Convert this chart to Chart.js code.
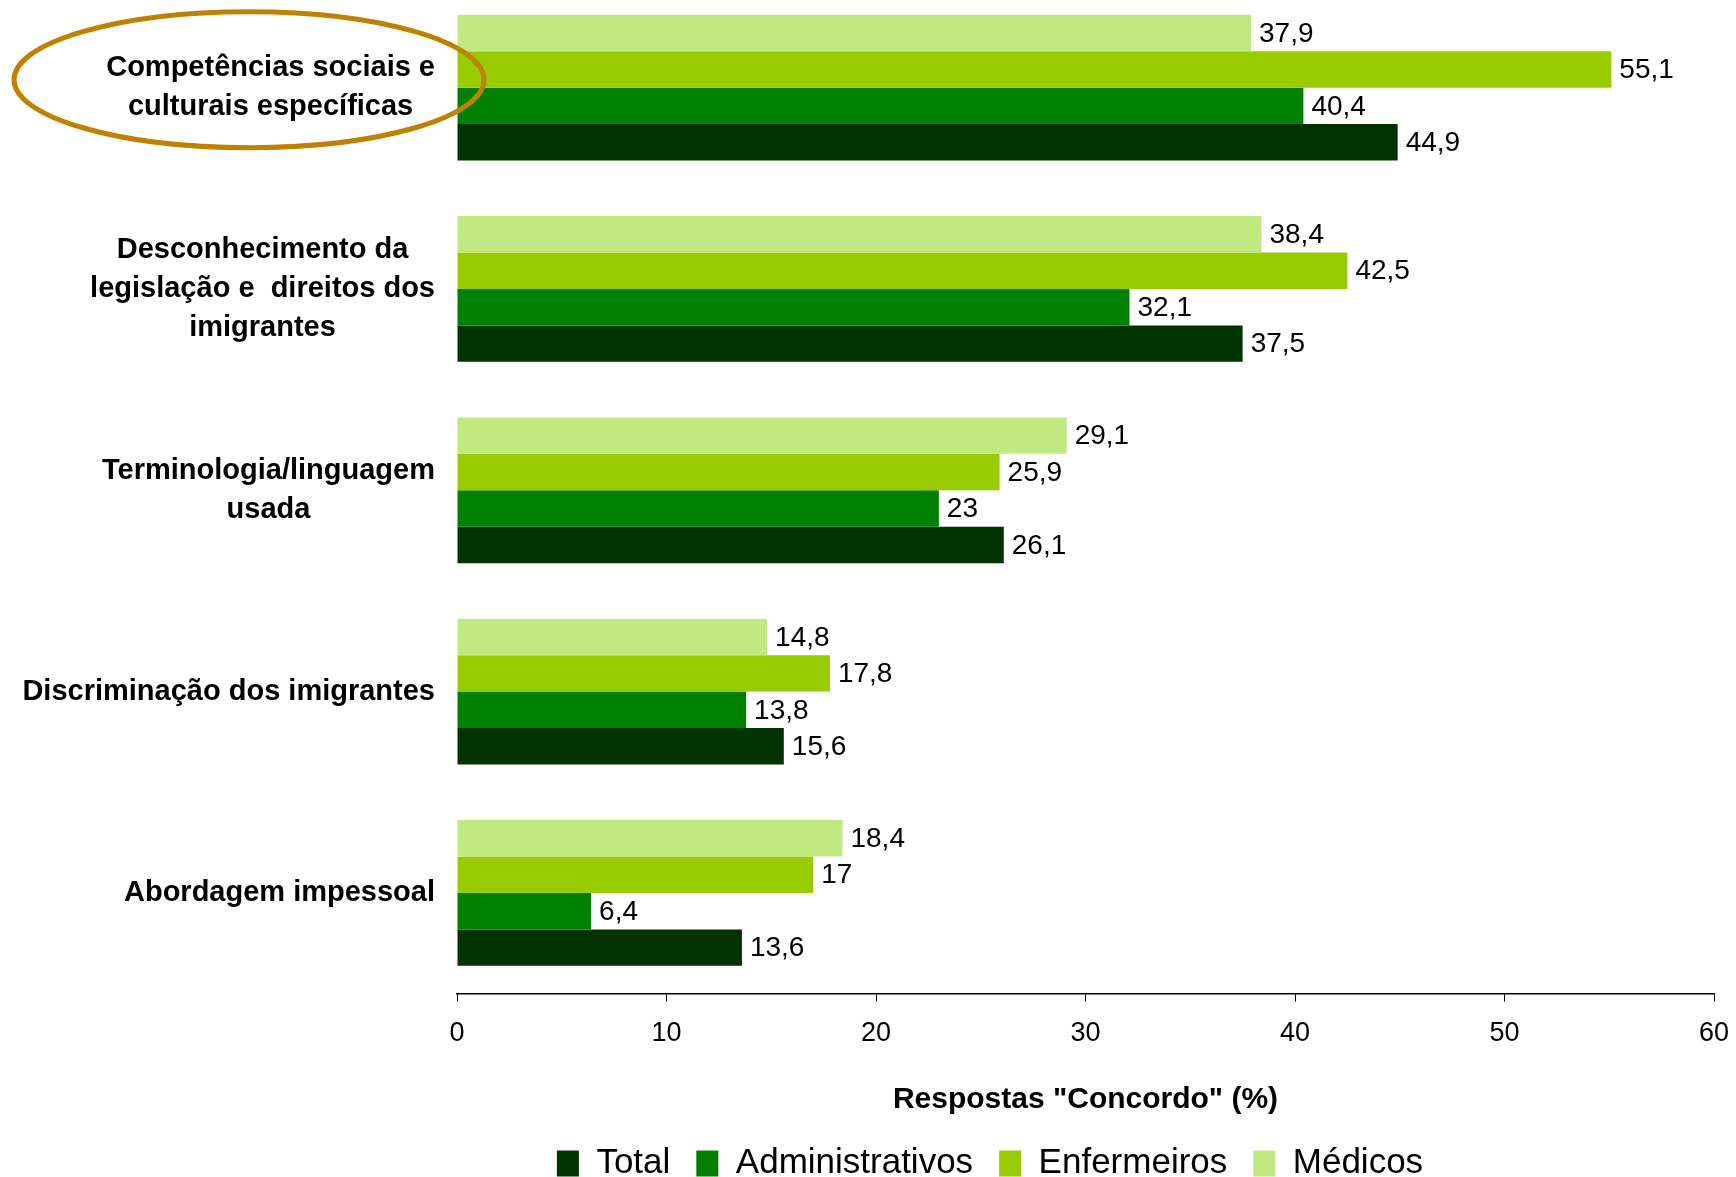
<!DOCTYPE html>
<html>
<head>
<meta charset="utf-8">
<script src="https://cdn.jsdelivr.net/npm/chart.js@4/dist/chart.umd.min.js"></script>
<style>
  html, body { margin: 0; padding: 0; background: #fff; overflow: hidden; }
  #wrap { position: relative; width: 1736px; height: 1177px; overflow: hidden; }
  #myChart { position: absolute; left: 0; top: -20px; }
</style>
</head>
<body>
<div id="wrap"><canvas id="myChart" width="1736" height="1215"></canvas></div>
<script>
// categories (each entry = lines of the label)
var categorias = [
    ["Competências sociais e", "culturais específicas"],
    ["Desconhecimento da", "legislação e  direitos dos", "imigrantes"],
    ["Terminologia/linguagem", "usada"],
    ["Discriminação dos imigrantes"],
    ["Abordagem impessoal"]
];
var medicos = [37.9, 38.4, 29.1, 14.8, 18.4];
var enfermeiros = [55.1, 42.5, 25.9, 17.8, 17];
var administrativos = [40.4, 32.1, 23, 13.8, 6.4];
var total = [44.9, 37.5, 26.1, 15.6, 13.6];
var xTicks = [0, 10, 20, 30, 40, 50, 60];

var FONT = "'Liberation Sans', Arial, sans-serif";

// category labels: right-aligned block, lines centred inside the block
var catLabels = {
    id: 'catLabels',
    afterDraw: function (chart) {
        var ctx = chart.ctx;
        var yScale = chart.scales.y;
        ctx.save();
        ctx.font = "bold 29px " + FONT;
        ctx.fillStyle = "#000";
        ctx.textAlign = "center";
        ctx.textBaseline = "middle";
        var right = 435;
        var lh = 39;
        categorias.forEach(function (lines, i) {
            var maxW = 0;
            lines.forEach(function (l) { maxW = Math.max(maxW, ctx.measureText(l).width); });
            var cx = right - maxW / 2;
            var cy = yScale.getPixelForValue(i);
            var y0 = cy - (lines.length - 1) * lh / 2;
            lines.forEach(function (l, k) { ctx.fillText(l, cx, y0 + k * lh); });
        });
        // highlight ring round the first category
        var ey = yScale.getPixelForValue(0) - 8;
        ctx.beginPath();
        ctx.ellipse(249, ey, 235, 68, 0, 0, Math.PI * 2);
        ctx.lineWidth = 5;
        ctx.strokeStyle = "#C08000";
        ctx.stroke();
        ctx.restore();
    }
};

// value at the end of each bar
var valueLabels = {
    id: 'valueLabels',
    afterDatasetsDraw: function (chart) {
        var ctx = chart.ctx;
        ctx.save();
        ctx.font = "28px " + FONT;
        ctx.fillStyle = "#000";
        ctx.textAlign = "left";
        ctx.textBaseline = "middle";
        chart.data.datasets.forEach(function (ds, di) {
            var meta = chart.getDatasetMeta(di);
            meta.data.forEach(function (bar, i) {
                var txt = String(ds.data[i]).replace('.', ',');
                ctx.fillText(txt, bar.x + 8, bar.y + 1);
            });
        });
        ctx.restore();
    }
};

var ctx = document.getElementById("myChart").getContext("2d");
var chartObj = new Chart(ctx, {
    type: 'bar',
    data: {
        labels: categorias.map(function (c) { return c.join(' '); }),
        datasets: [
            { label: "Médicos", data: medicos, backgroundColor: "#C0E980" },
            { label: "Enfermeiros", data: enfermeiros, backgroundColor: "#99CC00" },
            { label: "Administrativos", data: administrativos, backgroundColor: "#008000" },
            { label: "Total", data: total, backgroundColor: "#003300" }
        ]
    },
    options: {
        indexAxis: 'y',
        responsive: false,
        animation: false,
        categoryPercentage: 0.724,
        barPercentage: 1,
        layout: { padding: { top: 7, left: 266, right: 22, bottom: 4 } },
        scales: {
            x: {
                min: 0,
                max: 60,
                afterBuildTicks: function (scale) {
                    scale.ticks = xTicks.map(function (v) { return { value: v }; });
                },
                // let the last tick label hang past the plot edge
                afterFit: function (scale) { scale.paddingRight = 0; },
                grid: { display: true, drawOnChartArea: false, drawTicks: true, tickLength: 8, color: "#000" },
                border: { display: true, color: "#000", width: 1.5 },
                ticks: { color: "#000", font: { family: FONT, size: 27 }, padding: 16, maxRotation: 0 },
                title: {
                    display: true,
                    text: 'Respostas "Concordo" (%)',
                    color: "#000",
                    font: { family: FONT, size: 30, weight: 'bold' },
                    padding: { top: 16, bottom: 2 }
                }
            },
            y: {
                grid: { display: false },
                border: { display: false },
                ticks: { display: false },
                afterFit: function (scale) { scale.width = 191; }
            }
        },
        plugins: {
            legend: {
                position: 'bottom',
                labels: {
                    color: "#000",
                    font: { family: FONT, size: 35 },
                    boxWidth: 22,
                    boxHeight: 26,
                    padding: 26,
                    sort: function (a, b) { return b.datasetIndex - a.datasetIndex; }
                }
            },
            tooltip: { enabled: false }
        }
    },
    plugins: [valueLabels, catLabels]
});
</script>
</body>
</html>
